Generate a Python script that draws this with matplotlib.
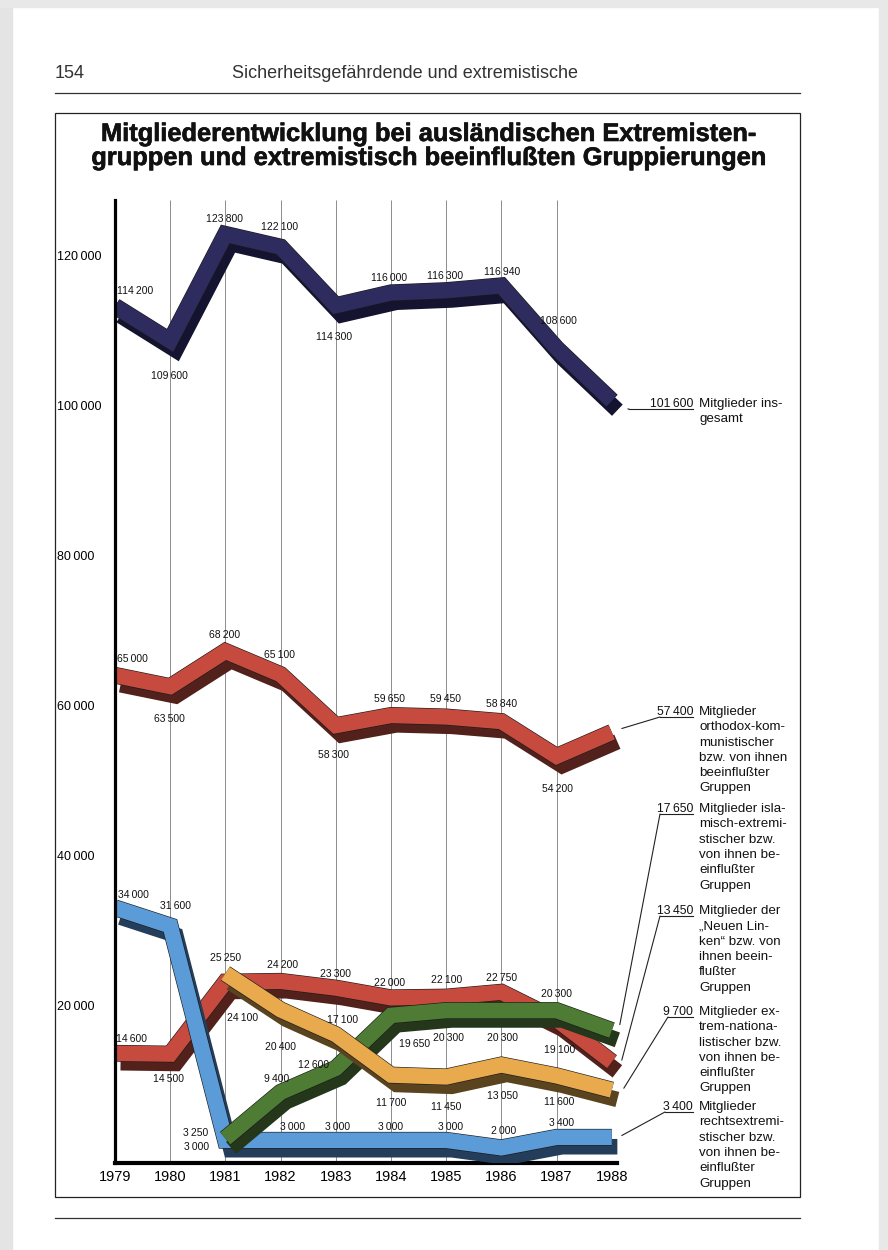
import numpy as np
import matplotlib
matplotlib.use("Agg")
import matplotlib.pyplot as plt
import matplotlib.patheffects as pe
import matplotlib.transforms as mtransforms
from matplotlib.patches import Rectangle
from matplotlib.lines import Line2D

plt.rcParams['font.family'] = ['Liberation Sans', 'DejaVu Sans']

years = np.arange(1979, 1989)
years_late = np.arange(1981, 1989)

total = [114200, 109600, 123800, 122100, 114300, 116000, 116300, 116940, 108600, 101600]
orthodox = [65000, 63500, 68200, 65100, 58300, 59650, 59450, 58840, 54200, 57400]
neue_linke = [14600, 14500, 24100, 24200, 23300, 22000, 22100, 22750, 19100, 13450]
islam = [3250, 9400, 12600, 19650, 20300, 20300, 20300, 17650]
nationalist = [25250, 20400, 17100, 11700, 11450, 13050, 11600, 9700]
rechts = [34000, 31600, 3000, 3000, 3000, 3000, 3000, 2000, 3400, 3400]

ytick_vals = [20000, 40000, 60000, 80000, 100000, 120000]

title = ("Mitgliederentwicklung bei ausländischen Extremisten-\n"
         "gruppen und extremistisch beeinflußten Gruppierungen")
header = "Sicherheitsgefährdende und extremistische"
page_no = "154"

notes_total = ["Mitglieder ins-", "gesamt"]
notes_orth = ["Mitglieder", "orthodox-kom-", "munistischer", "bzw. von ihnen",
              "beeinflußter", "Gruppen"]
notes_islam = ["Mitglieder isla-", "misch-extremi-", "stischer bzw.", "von ihnen be-",
               "einflußter", "Gruppen"]
notes_nl = ["Mitglieder der", "„Neuen Lin-", "ken“ bzw. von", "ihnen beein-",
            "flußter", "Gruppen"]
notes_nat = ["Mitglieder ex-", "trem-nationa-", "listischer bzw.", "von ihnen be-",
             "einflußter", "Gruppen"]
notes_rechts = ["Mitglieder", "rechtsextremi-", "stischer bzw.", "von ihnen be-",
                "einflußter", "Gruppen"]

W, H = 888, 1250
fig = plt.figure(figsize=(W / 100, H / 100), dpi=100)
fig.patch.set_facecolor('white')


def fx(px):
    return px / W


def fy(py):
    return 1 - py / H


# page edges of the scan
fig.patches.append(Rectangle((0, 0), fx(12), 1, transform=fig.transFigure,
                             color='#e4e4e4', zorder=0))
fig.patches.append(Rectangle((0, fy(7)), 1, fy(0) - fy(7), transform=fig.transFigure,
                             color='#e8e8e8', zorder=0))
fig.patches.append(Rectangle((fx(879), 0), fx(9), 1, transform=fig.transFigure,
                             color='#e8e8e8', zorder=0))

# header
fig.text(fx(55), fy(73), page_no, fontsize=13, color='#333333', va='center', ha='left')
fig.text(fx(232), fy(73), header, fontsize=13, color='#333333', va='center', ha='left')
fig.add_artist(Line2D([fx(55), fx(800)], [fy(93), fy(93)], color='#333333', lw=0.9))
fig.add_artist(Line2D([fx(55), fx(800)], [fy(1218), fy(1218)], color='#333333', lw=0.9))
fig.patches.append(Rectangle((fx(55), fy(1197)), fx(800) - fx(55), fy(113) - fy(1197),
                             transform=fig.transFigure, fill=False, ec='#222222', lw=0.9))
fig.text(fx(428), fy(146), title, fontsize=18.3, fontweight='bold', ha='center',
         va='center', linespacing=1.0, color='#111111',
         path_effects=[pe.withStroke(linewidth=0.45, foreground='#111111')])

# axes: 1979 at px 115, 55.2 px per year; value 0 at px 1155, 0.0075 px per unit
x0, ppy = 115, 55.2
xmax = 1990.5
y_top, y_bot = 200, 1163
ax = fig.add_axes([fx(x0), fy(y_bot), (xmax - 1979) * ppy / W, (y_bot - y_top) / H])
ax.set_xlim(1979, xmax)
ax.set_ylim((1155 - y_bot) / 0.0075, (1155 - y_top) / 0.0075)
ax.patch.set_alpha(0)
for s in ['top', 'right']:
    ax.spines[s].set_visible(False)
ax.spines['left'].set_linewidth(2.3)
ax.spines['bottom'].set_linewidth(3.0)
ax.spines['bottom'].set_bounds(1979, 1988.1)
ax.spines['left'].set_zorder(6)


def fmt(v):
    return f"{v:,}".replace(",", "\u2009")


ax.set_yticks(ytick_vals)
ax.set_yticklabels([fmt(v) for v in ytick_vals], fontsize=9, ha='left')
ax.tick_params(axis='y', length=0, pad=41.8)
ax.set_xticks(years)
ax.set_xticklabels([str(y) for y in years], fontsize=10.5)
ax.tick_params(axis='x', length=0, pad=5)

ax.vlines(years[1:9], ax.get_ylim()[0], ax.get_ylim()[1], color='#7a7a7a', lw=0.6, zorder=1)

lw_pt = 11.2
down = mtransforms.ScaledTranslation(0, -lw_pt / 2 / 72, fig.dpi_scale_trans)


def ribbon(x, v, face, shade, z):
    ax.plot(x, v, color=face, lw=lw_pt, solid_joinstyle='miter', solid_capstyle='butt',
            transform=ax.transData + down, zorder=z,
            path_effects=[pe.SimpleLineShadow(offset=(4.0, -6.8), shadow_color=shade, alpha=1),
                          pe.Stroke(linewidth=lw_pt + 0.9, foreground='#1a1a1a'),
                          pe.Normal()])


def labels(x, v, offs):
    for xi, vi, (dx, dy) in zip(x, v, offs):
        ax.annotate(fmt(vi), (xi, vi), xytext=(dx, dy), textcoords='offset pixels',
                    ha='center', va='center', fontsize=7.5, color='#111111', zorder=10)


series = [
    (years, total, '#2e2c5e', '#141330', 3,
     [(20, 7), (-1, -43), (-1, 8), (-1, 12), (-2, -39), (-2, 7), (-1, 7), (1, 6), (2, 20)]),
    (years, orthodox, '#c64a3e', '#52211b', 3,
     [(17, 8), (-1, -40), (-1, 9), (-1, 12), (-2, -37), (-1, 9), (-1, 10), (0, 10), (1, -41)]),
    (years, neue_linke, '#c64a3e', '#52211b', 4,
     [(17, 7), (-2, -33), (17, -44), (2, 8), (0, 6), (-1, 7), (0, 9), (0, 6), (3, -38)]),
    (years, rechts, '#5b9bd8', '#233d5a', 5,
     [(18, 5), (5, 12), (-29, -14), (12, 6), (2, 6), (0, 6), (4, 6), (2, 9), (5, 7)]),
    (years_late, islam, '#4f7c34', '#25371a', 6,
     [(-30, -2), (-4, 6), (-22, -4), (24, -36), (2, -35), (1, -35), (0, 9)]),
    (years_late, nationalist, '#e8aa4c', '#5a431f', 7,
     [(0, 8), (0, -45), (7, 7), (0, -36), (0, -38), (1, -39), (3, -34)]),
]

for x, v, face, shade, z, offs in series:
    ribbon(x, v, face, shade, z)
    labels(x[:-1], v[:-1], offs)

# right-hand notes with leader lines to the 1988 ends
line_step = 15.3
notes = [
    (total, notes_total, 407, (16, -16), 629),
    (orthodox, notes_orth, 715, (10, -4), 660),
    (islam, notes_islam, 812, (8, -2), 660),
    (neue_linke, notes_nl, 914, (10, -6), 660),
    (nationalist, notes_nat, 1015, (12, -6), 668),
    (rechts, notes_rechts, 1110, (10, -6), 665),
]
for v, lines, base, (sx, sy), xstart in notes:
    fig.text(fx(693), fy(base), fmt(v[-1]), fontsize=8.8, ha='right', va='baseline',
             color='#111111')
    for i, ln in enumerate(lines):
        fig.text(fx(699), fy(base + i * line_step), ln, fontsize=9.6, ha='left',
                 va='baseline', color='#111111')
    fig.add_artist(Line2D([fx(xstart), fx(693)], [fy(base + 2), fy(base + 2)],
                          color='#222222', lw=0.8))
    shift = mtransforms.ScaledTranslation(sx / 100, sy / 100, fig.dpi_scale_trans)
    ax.annotate('', xy=(1988, v[-1]), xycoords=ax.transData + shift,
                xytext=(xstart, H - base - 2), textcoords='figure pixels',
                arrowprops=dict(arrowstyle='-', lw=0.8, color='#222222',
                                shrinkA=0, shrinkB=0),
                annotation_clip=False, zorder=2)

fig.savefig('out.png', dpi=100)
